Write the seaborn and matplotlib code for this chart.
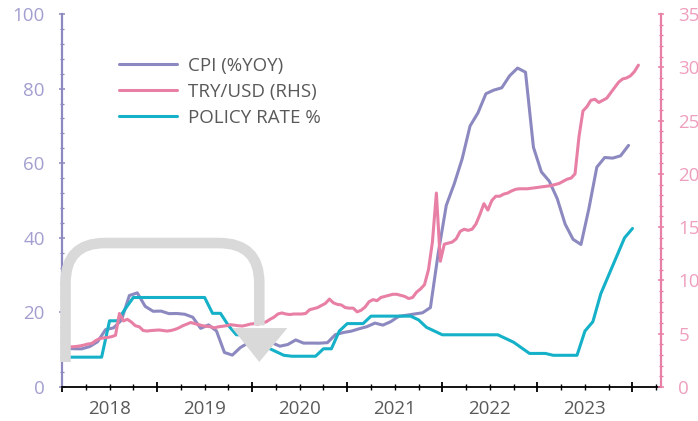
import numpy as np
import pandas as pd
import matplotlib
matplotlib.use("Agg")
import matplotlib.pyplot as plt
import seaborn as sns
from matplotlib.path import Path
from matplotlib.patches import PathPatch, Polygon
from matplotlib.lines import Line2D

# --- data (monthly CPI %yoy, month-end policy rate %, half-monthly TRY per USD) ---
cpi_2018 = [10.35, 10.26, 10.23, 10.85, 12.15, 15.39, 15.85, 17.90, 24.52, 25.24, 21.62, 20.30]
cpi_2019 = [20.35, 19.67, 19.71, 19.50, 18.71, 15.72, 16.65, 15.01, 9.26, 8.55, 10.56, 11.84]
cpi_2020 = [12.15, 12.37, 11.86, 10.94, 11.39, 12.62, 11.76, 11.77, 11.75, 11.89, 14.03, 14.60]
cpi_2021 = [14.97, 15.61, 16.19, 17.14, 16.59, 17.53, 18.95, 19.25, 19.58, 19.89, 21.31, 36.08]
cpi_2022 = [48.69, 54.44, 61.14, 69.97, 73.50, 78.62, 79.60, 80.21, 83.45, 85.51, 84.39, 64.27]
cpi_2023 = [57.68, 55.18, 50.51, 43.68, 39.59, 38.21, 47.83, 58.94, 61.53, 61.36, 61.98, 64.77]

policy_2018 = [8, 8, 8, 8, 8, 17.75, 17.75, 21, 24, 24, 24, 24]
policy_2019 = [24, 24, 24, 24, 24, 24, 19.75, 19.75, 16.5, 14, 14, 12]
policy_2020 = [11.25, 10.5, 9.5, 8.5, 8.25, 8.25, 8.25, 8.25, 10.25, 10.25, 15, 17]
policy_2021 = [17, 17, 19, 19, 19, 19, 19, 19, 18, 16, 15, 14]
policy_2022 = [14, 14, 14, 14, 14, 14, 14, 13, 12, 10.5, 9, 9]
policy_2023 = [9, 8.5, 8.5, 8.5, 8.5, 15, 17.5, 25, 30, 35, 40, 42.5]

try_2018 = [3.77, 3.78, 3.77, 3.80, 3.85, 3.93, 4.03, 4.08, 4.35, 4.55, 4.60, 4.65,
            4.72, 4.85, 6.90, 6.20, 6.35, 6.10, 5.75, 5.65, 5.30, 5.25, 5.30, 5.32]
try_2019 = [5.35, 5.30, 5.25, 5.30, 5.40, 5.55, 5.75, 5.90, 6.05, 5.95, 5.85, 5.75,
            5.70, 5.65, 5.55, 5.65, 5.70, 5.75, 5.85, 5.80, 5.75, 5.72, 5.80, 5.90]
try_2020 = [5.95, 5.90, 6.05, 6.10, 6.35, 6.55, 6.85, 6.95, 6.85, 6.80, 6.85, 6.85,
            6.85, 6.90, 7.25, 7.35, 7.45, 7.65, 7.85, 8.25, 7.90, 7.75, 7.70, 7.45]
try_2021 = [7.40, 7.40, 7.05, 7.20, 7.50, 8.00, 8.20, 8.10, 8.40, 8.50, 8.60, 8.70,
            8.70, 8.60, 8.50, 8.30, 8.40, 8.90, 9.20, 9.60, 11.00, 13.60, 18.20, 11.80]
try_2022 = [13.40, 13.50, 13.60, 13.90, 14.60, 14.80, 14.70, 14.80, 15.30, 16.20, 17.20, 16.60,
            17.50, 17.90, 17.90, 18.10, 18.20, 18.40, 18.55, 18.60, 18.60, 18.60, 18.65, 18.70]
try_2023 = [18.75, 18.80, 18.85, 18.90, 19.00, 19.10, 19.30, 19.50, 19.60, 20.00, 23.50, 25.90,
            26.30, 26.90, 27.00, 26.70, 26.90, 27.10, 27.60, 28.10, 28.60, 28.90, 29.00, 29.20]
try_2024 = [29.60, 30.20]

years = [2018, 2019, 2020, 2021, 2022, 2023]
labels = ["CPI (%YOY)", "TRY/USD (RHS)", "POLICY RATE %"]

cpi = np.array(cpi_2018 + cpi_2019 + cpi_2020 + cpi_2021 + cpi_2022 + cpi_2023)
policy = np.array(policy_2018 + policy_2019 + policy_2020 + policy_2021 + policy_2022 + policy_2023)
tryusd = np.array(try_2018 + try_2019 + try_2020 + try_2021 + try_2022 + try_2023 + try_2024)

df_cpi = pd.DataFrame({"t": 2018 + (np.arange(len(cpi)) + 0.5) / 12, "v": cpi})
df_pol = pd.DataFrame({"t": 2018 + (np.arange(len(policy)) + 1) / 12, "v": policy})
df_try = pd.DataFrame({"t": 2018 + (np.arange(len(tryusd)) + 0.5) / 24, "v": tryusd})

# --- style ---
sns.set_theme(style="white")
plt.rcParams['font.family'] = ['Open Sans', 'DejaVu Sans']

c_cpi = "#8c89c0"
c_try = "#e87fa5"
c_pol = "#14b1c8"
c_left = "#a29fd0"
c_right = "#ef9fbe"
c_text = "#595959"

fig, ax = plt.subplots(figsize=(6.98, 4.21), dpi=100)
fig.subplots_adjust(left=62 / 698, right=661 / 698, top=1 - 14 / 421, bottom=1 - 387 / 421)
ax2 = ax.twinx()

sns.lineplot(data=df_cpi, x="t", y="v", ax=ax, color=c_cpi, lw=2.2)
sns.lineplot(data=df_pol, x="t", y="v", ax=ax, color=c_pol, lw=2.2)
sns.lineplot(data=df_try, x="t", y="v", ax=ax2, color=c_try, lw=2.2)

ax.set_xlim(2018, 2024.3)
ax.set_ylim(0, 100)
ax2.set_ylim(0, 35)
ax.set_xlabel("")
ax.set_ylabel("")
ax2.set_ylabel("")

ax.set_yticks(np.arange(0, 101, 20))
ax.set_yticks(np.arange(0, 101, 4), minor=True)
ax2.set_yticks(np.arange(0, 36, 5))
ax2.set_yticks(np.arange(0, 36, 1), minor=True)
ax.set_xticks(np.arange(2018, 2025))
ax.set_xticks(np.arange(2018, 2024.3, 0.25), minor=True)
ax.set_xticklabels([])

ax.tick_params(axis="y", which="major", direction="inout", length=5, width=1.1,
               color=c_cpi, labelcolor=c_left, labelsize=13.5, pad=10, left=True)
ax.tick_params(axis="y", which="minor", direction="inout", length=3, width=0.9,
               color=c_cpi, left=True)
ax2.tick_params(axis="y", which="major", direction="inout", length=5, width=1.1,
                color=c_try, labelcolor=c_right, labelsize=13.5, pad=10, right=True)
ax2.tick_params(axis="y", which="minor", direction="inout", length=3, width=0.9,
                color=c_try, right=True)
ax.tick_params(axis="x", which="major", direction="inout", length=7, width=1.3,
               color="black", bottom=True)
ax.tick_params(axis="x", which="minor", direction="inout", length=4, width=1.0,
               color="black", bottom=True)

for s in ["top", "right"]:
    ax.spines[s].set_visible(False)
for s in ["top", "left", "bottom"]:
    ax2.spines[s].set_visible(False)
ax.spines["left"].set_color(c_cpi)
ax.spines["left"].set_linewidth(1.6)
ax.spines["bottom"].set_color("black")
ax.spines["bottom"].set_linewidth(1.3)
ax2.spines["right"].set_color(c_try)
ax2.spines["right"].set_linewidth(1.6)

for yr in years:
    ax.text(yr + 0.5, -0.035, str(yr), transform=ax.get_xaxis_transform(),
            ha="center", va="top", fontsize=13.5, color=c_text)

# grey U-turn arrow (annotation shape, in CPI-axis data coords)
verts = [(2018.037, 6.7), (2018.037, 27.9), (2018.037, 38.6), (2018.45, 38.6),
         (2019.65, 38.6), (2020.075, 38.6), (2020.075, 27.9), (2020.075, 16.5)]
codes = [Path.MOVETO, Path.LINETO, Path.CURVE3, Path.CURVE3,
         Path.LINETO, Path.CURVE3, Path.CURVE3, Path.LINETO]
band = PathPatch(Path(verts, codes), facecolor="none", edgecolor="#d9d9d9",
                 lw=7.6, capstyle="butt", joinstyle="round",
                 transform=ax.transData, clip_on=False, zorder=10)
ax2.add_patch(band)
head = Polygon([(2019.79, 15.8), (2020.37, 15.8), (2020.075, 6.7)], closed=True,
               facecolor="#d9d9d9", edgecolor="none", transform=ax.transData,
               clip_on=False, zorder=10)
ax2.add_patch(head)

handles = [Line2D([], [], color=c, lw=2.2) for c in [c_cpi, c_try, c_pol]]
fig.legend(handles, labels, loc="upper left", bbox_to_anchor=(119 / 698, 1 - 57 / 421),
           frameon=False, borderpad=0, borderaxespad=0, fontsize=13.5,
           handlelength=3.1, handletextpad=0.6, labelspacing=0.42, labelcolor=c_text)

fig.savefig("out.png", dpi=100)
